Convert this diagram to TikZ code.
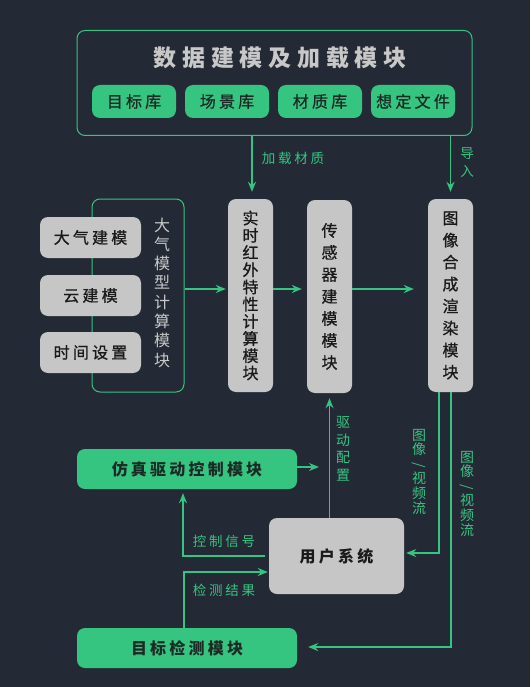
\documentclass[tikz,border=0pt]{standalone}
\usepackage{fontspec}
\usepackage{graphicx}
\usetikzlibrary{arrows.meta}
\newfontfamily\cjk[LetterSpace=20]{Noto Sans CJK SC}
\newfontfamily\cjkm[LetterSpace=20,FakeBold=0.8]{Noto Sans CJK SC}
\newfontfamily\cjkt[LetterSpace=25]{Noto Sans CJK SC}
\newfontfamily\cjkv{Noto Sans CJK SC}
\newfontfamily\cjkvm[FakeBold=0.8]{Noto Sans CJK SC}
\definecolor{bg}{HTML}{242A35}
\definecolor{grn}{HTML}{36C481}
\definecolor{lgray}{HTML}{C6C6C6}
\definecolor{ttext}{HTML}{C8C8C8}
\definecolor{dtext}{HTML}{1C2A25}
\definecolor{btext}{HTML}{1A1A1A}
\newcommand{\vslash}{\rotatebox[origin=c]{-90}{/}}
\tikzset{
  frame/.style={draw=grn, line width=1pt, rounded corners=8pt},
  gbox/.style={fill=grn, rounded corners=8pt, text=dtext, inner sep=0pt, font=\cjk\bfseries\fontsize{16}{18}\selectfont},
  pill/.style={fill=grn, rounded corners=8pt, text=dtext, inner sep=0pt, minimum width=84pt, minimum height=33pt, font=\cjkm\fontsize{16}{18}\selectfont},
  graybox/.style={fill=lgray, rounded corners=8pt, text=btext, inner sep=0pt, font=\cjkm\fontsize{16}{18}\selectfont},
  vbox/.style={fill=lgray, rounded corners=8pt, text=btext, inner sep=0pt, align=center, minimum width=45pt, minimum height=193pt},
  conn/.style={draw=grn, line width=1.6pt, -{Stealth[length=10pt,width=8pt]}},
  lbl/.style={text=grn, inner sep=0pt, font=\cjk\fontsize{13.5}{15}\selectfont},
  vlbl/.style={text=grn, inner sep=0pt, align=center},
}
\begin{document}
\begin{tikzpicture}[x=1pt,y=-1pt]
\path[fill=bg, use as bounding box] (0,0) rectangle (530,687);

% data modeling module
\node[frame, minimum width=395pt, minimum height=105pt] (data) at (274.5,83) {};
\node[text=ttext, inner sep=0pt, font=\cjkt\bfseries\fontsize{23}{25}\selectfont] (title) at (280,58) {数据建模及加载模块};
\node[pill] (p1) at (134,101.5) {目标库};
\node[pill] (p2) at (227,101.5) {场景库};
\node[pill] (p3) at (320,101.5) {材质库};
\node[pill] (p4) at (413,101.5) {想定文件};

% atmosphere module
\node[frame, minimum width=92pt, minimum height=193pt] (atm) at (138,295.5) {};
\node[graybox, minimum width=101pt, minimum height=41pt] (b1) at (90.5,237.5) {大气建模};
\node[graybox, minimum width=101pt, minimum height=41pt] (b2) at (90.5,295.5) {云建模};
\node[graybox, minimum width=101pt, minimum height=41pt] (b3) at (90.5,352.5) {时间设置};
\node[text=ttext, inner sep=0pt, align=center, font=\cjkv\fontsize{16}{19.3}\selectfont] (atmtxt) at (162,292.5) {大\\气\\模\\型\\计\\算\\模\\块};

% vertical modules
\node[vbox, font=\cjkvm\fontsize{16}{17.2}\selectfont] (calc) at (250.5,295.5) {实\\时\\红\\外\\特\\性\\计\\算\\模\\块};
\node[vbox, font=\cjkvm\fontsize{16}{22}\selectfont] (sens) at (329.5,296.5) {传\\感\\器\\建\\模\\模\\块};
\node[vbox, font=\cjkvm\fontsize{16}{22}\selectfont] (rend) at (450.5,295.5) {图\\像\\合\\成\\渲\\染\\模\\块};

\coordinate (row) at (0,289);
\draw[conn, shorten >=2pt] (atm.east |- row) -- (calc.west |- row);
\draw[conn, shorten >=5pt] (calc.east |- row) -- (sens.west |- row);
\draw[conn, shorten >=14pt] (sens.east |- row) -- (rend.west |- row);

\draw[conn, shorten >=7pt] ([xshift=1.5pt]calc.north |- data.south) -- ([xshift=1.5pt]calc.north);
\node[lbl] (l1) at (293,158) {加载材质};
\draw[conn, shorten >=7pt] (rend.north |- data.south) -- (rend.north);
\node[vlbl, font=\cjkv\fontsize{13.5}{18}\selectfont] (l2) at (467,163) {导\\入};

% bottom part
\node[gbox, minimum width=220pt, minimum height=40pt] (sim) at (187,469) {仿真驱动控制模块};
\node[gbox, minimum width=220pt, minimum height=40pt] (det) at (187,648) {目标检测模块};
\node[graybox, font=\cjk\bfseries\fontsize{16}{18}\selectfont, minimum width=135pt, minimum height=76pt] (user) at (336.5,556) {用户系统};

\coordinate (simend) at (319,467);
\draw[conn] (sim.east |- simend) -- (simend);
\draw[conn, shorten >=5pt] (sens.south |- user.north) -- (sens.south);
\node[vlbl, font=\cjkv\fontsize{14}{17.5}\selectfont] (l3) at (343,449) {驱\\动\\配\\置};

\coordinate (r1) at (0,553);
\coordinate (r2) at (0,647);
\draw[conn, shorten >=2pt] ([xshift=-11.5pt]rend.south) |- (user.east |- r1);
\draw[conn, shorten >=11pt] ([xshift=0.5pt]rend.south) |- (det.east |- r2);
\node[vlbl, font=\cjkv\fontsize{14}{14.6}\selectfont] (l4) at (419,471.5) {图\\像\\\vslash\\视\\频\\流};
\node[vlbl, font=\cjkv\fontsize{14}{14.6}\selectfont] (l5) at (467,493.5) {图\\像\\\vslash\\视\\频\\流};

\draw[conn, shorten <=4pt, shorten >=4pt] (user.west) -| ([xshift=-4pt]sim.south);
\node[lbl] (l6) at (224,541) {控制信号};
\draw[conn, shorten >=1pt] ([xshift=-3pt]det.north) |- (user.west |- 0,572);
\node[lbl] (l7) at (224,590) {检测结果};
\end{tikzpicture}
\end{document}
